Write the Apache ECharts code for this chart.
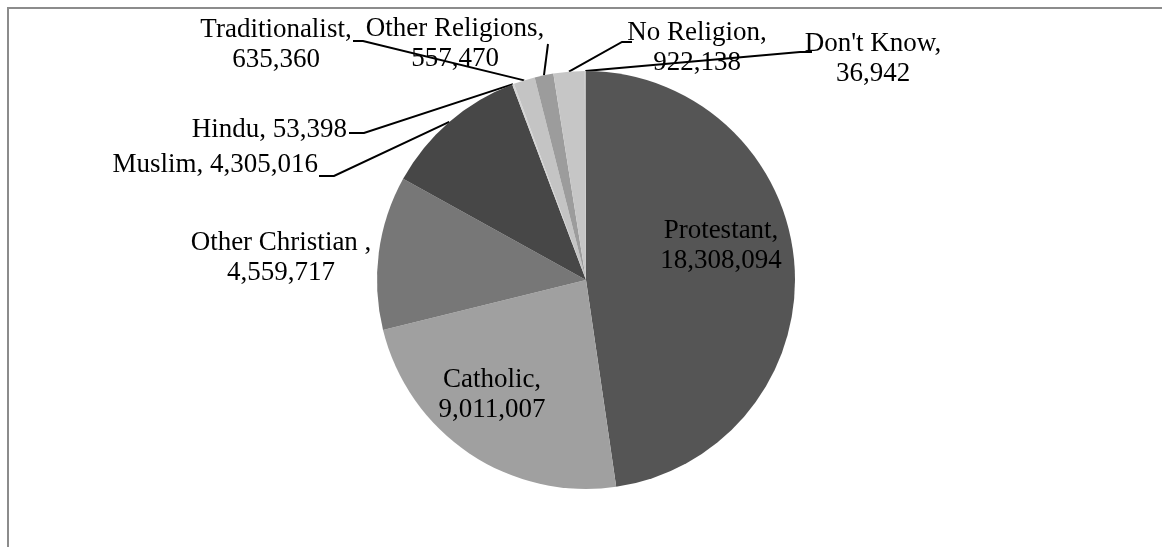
<!DOCTYPE html>
<html>
<head>
<meta charset="utf-8">
<script src="https://cdn.jsdelivr.net/npm/echarts@6/dist/echarts.min.js"></script>
<style>
html,body{margin:0;padding:0;background:#fff;}
#chart{width:1162px;height:547px;}
</style>
</head>
<body>
<div id="chart"></div>
<script>
// ---- data ----
var categories = ['Protestant', 'Catholic', 'Other Christian ', 'Muslim', 'Hindu', 'Traditionalist', 'Other Religions', 'No Religion', "Don't Know"];
var values = [18308094, 9011007, 4559717, 4305016, 53398, 635360, 557470, 922138, 36942];
var sliceColors = ['#555555', '#a0a0a0', '#777777', '#474747', '#d4d4d4', '#c4c4c4', '#9c9c9c', '#c6c6c6', '#bdbdbd'];
var singleLine = ['Muslim', 'Hindu'];

function fmt(v) { return String(v).replace(/\B(?=(\d{3})+(?!\d))/g, ','); }

// label placement (pixel layout of text boxes and leader-line bends)
var labelPlace = {
  'Protestant':       { x: 721, y: 246, align: 'center' },
  'Catholic':         { x: 492, y: 395, align: 'center' },
  'Other Christian ': { x: 281, y: 258, align: 'center' },
  'Muslim':           { x: 318, y: 165, align: 'right', bend: [[334, 176], [319, 176]] },
  'Hindu':            { x: 347, y: 130, align: 'right', bend: [[364, 133], [349, 133]] },
  'Traditionalist':   { x: 276, y: 45,  align: 'center', bend: [[363, 41], [353, 41]] },
  'Other Religions':  { x: 455, y: 44,  align: 'center', bend: [[548, 44]] },
  'No Religion':      { x: 697, y: 48,  align: 'center', bend: [[622, 42], [632, 42]] },
  "Don't Know":       { x: 873, y: 59,  align: 'center', bend: [[800, 52], [812, 52]] }
};
var insideLabels = ['Protestant', 'Catholic'];

var data = categories.map(function (c, i) {
  var item = { name: c, value: values[i], itemStyle: { color: sliceColors[i] } };
  if (insideLabels.indexOf(c) >= 0) {
    item.label = { position: 'inside' };
    item.labelLine = { show: false };
  } else if (c === 'Other Christian ') {
    item.labelLine = { show: false };
  }
  return item;
});

var chart = echarts.init(document.getElementById('chart'), null, { renderer: 'canvas' });
chart.setOption({
  backgroundColor: '#ffffff',
  animation: false,
  graphic: [{
    type: 'rect',
    shape: { x: 8, y: 8, width: 1300, height: 700 },
    style: { fill: 'none', stroke: '#8c8c8c', lineWidth: 2 },
    silent: true
  }],
  series: [{
    type: 'pie',
    center: [586, 280],
    radius: 209,
    startAngle: 90,
    clockwise: true,
    avoidLabelOverlap: false,
    minShowLabelAngle: 0,
    data: data,
    itemStyle: { borderWidth: 0 },
    emphasis: { disabled: true },
    label: {
      show: true,
      position: 'outside',
      fontFamily: 'Liberation Serif',
      fontSize: 27,
      lineHeight: 30,
      color: '#000000',
      formatter: function (p) {
        if (singleLine.indexOf(p.name) >= 0) return p.name + ', ' + fmt(p.value);
        return p.name + ',\n' + fmt(p.value);
      }
    },
    labelLine: {
      show: true,
      length: 20,
      length2: 10,
      smooth: false,
      lineStyle: { color: '#000000', width: 2 }
    },
    labelLayout: function (params) {
      var name = categories[params.dataIndex];
      var pl = labelPlace[name];
      if (!pl) return {};
      var out = { x: pl.x, y: pl.y, align: pl.align, verticalAlign: 'middle' };
      if (pl.bend && params.labelLinePoints) {
        var pts = [params.labelLinePoints[0].slice()];
        pl.bend.forEach(function (b) { pts.push(b); });
        out.labelLinePoints = pts;
      }
      return out;
    }
  }]
});
</script>
</body>
</html>
